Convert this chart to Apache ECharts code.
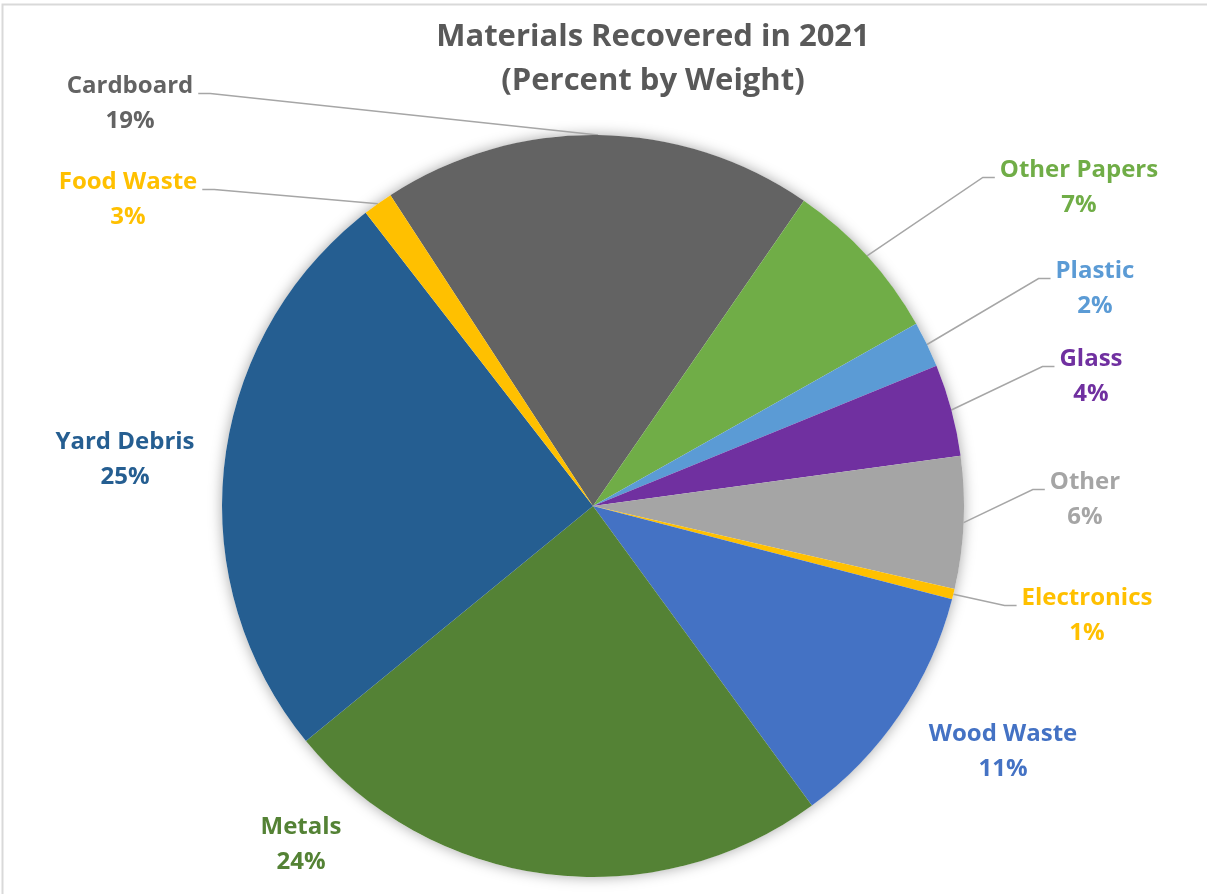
<!DOCTYPE html>
<html>
<head>
<meta charset="utf-8">
<script src="https://cdn.jsdelivr.net/npm/echarts@6/dist/echarts.min.js"></script>
<style>
  html, body { margin: 0; padding: 0; background: #ffffff; }
  #chart { width: 1207px; height: 894px; }
</style>
</head>
<body>
<div id="chart"></div>
<script>
// ---- data ----
const categories = ['Cardboard', 'Other Papers', 'Plastic', 'Glass', 'Other', 'Electronics', 'Wood Waste', 'Metals', 'Yard Debris', 'Food Waste'];
const sliceValues = [18.8, 7.2, 2.0, 4.0, 5.75, 0.45, 10.9, 24.1, 25.4, 1.3];
const labelPercents = [19, 7, 2, 4, 6, 1, 11, 24, 25, 3];
const sliceColors = ['#636363', '#70AD47', '#5B9BD5', '#7030A0', '#A5A5A5', '#FFC000', '#4472C4', '#548235', '#255E91', '#FFC000'];
const showLeader = [true, true, true, true, true, true, false, false, false, true];

// ---- layout (label placement, as in the reference) ----
const FONT = '"Open Sans", Lato, sans-serif';
const LINE_H = 35;
const LABEL_POS = [
  [130, 104], [1079, 188], [1095, 289], [1091, 377], [1085, 500],
  [1087, 616], [1003, 752], [301, 845], [125, 460], [128, 200]
];

const chart = echarts.init(document.getElementById('chart'), null, { renderer: 'canvas' });

const pieData = categories.map((name, i) => ({
  name: name,
  value: sliceValues[i],
  pct: labelPercents[i],
  itemStyle: { color: sliceColors[i] },
  label: { color: sliceColors[i] },
  labelLine: { show: showLeader[i] }
}));

const option = {
  backgroundColor: '#ffffff',
  animation: false,
  title: {
    text: 'Materials Recovered in 2021\n(Percent by Weight)',
    left: 648,
    top: 10,
    textAlign: 'center',
    textStyle: {
      fontFamily: FONT,
      fontSize: 31,
      fontWeight: 'bold',
      color: '#595959',
      lineHeight: 44
    }
  },
  graphic: [{
    type: 'rect',
    z: -10,
    silent: true,
    shape: { x: 2.5, y: 4.5, width: 1400, height: 1000 },
    style: { fill: null, stroke: '#D9D9D9', lineWidth: 2 }
  }],
  series: [
    {
      // soft outer shadow behind the pie
      type: 'pie',
      silent: true,
      z: 1,
      center: [593, 506],
      radius: 371,
      label: { show: false },
      labelLine: { show: false },
      itemStyle: { color: '#ffffff', shadowBlur: 14, shadowColor: 'rgba(0,0,0,0.35)' },
      data: [1]
    },
    {
      type: 'pie',
      z: 2,
      center: [593, 506],
      radius: 371,
      startAngle: 123.1,
      clockwise: true,
      avoidLabelOverlap: false,
      itemStyle: { borderWidth: 0 },
      label: {
        show: true,
        position: 'outside',
        fontFamily: FONT,
        fontSize: 24,
        fontWeight: 'bold',
        lineHeight: LINE_H,
        align: 'center',
        formatter: (p) => p.name + '\n' + p.data.pct + '%'
      },
      labelLine: {
        show: true,
        length: 10,
        length2: 10,
        smooth: false,
        lineStyle: { color: '#A6A6A6', width: 1.5 }
      },
      labelLayout: function (params) {
        const i = params.dataIndex;
        const p = LABEL_POS[i];
        const out = { x: p[0], y: p[1], align: 'center', verticalAlign: 'middle' };
        const pts = params.labelLinePoints;
        if (pts && showLeader[i]) {
          const a = pts[0];
          const w = params.labelRect.width;
          const sign = p[0] > a[0] ? 1 : -1;
          const ex = p[0] - sign * (w / 2 + 5);
          const ey = p[1] - LINE_H / 2 + 7;
          const bx = ex - sign * 12;
          out.labelLinePoints = [[a[0], a[1]], [bx, ey], [ex, ey]];
        }
        return out;
      },
      data: pieData
    }
  ]
};

chart.setOption(option);
</script>
</body>
</html>
